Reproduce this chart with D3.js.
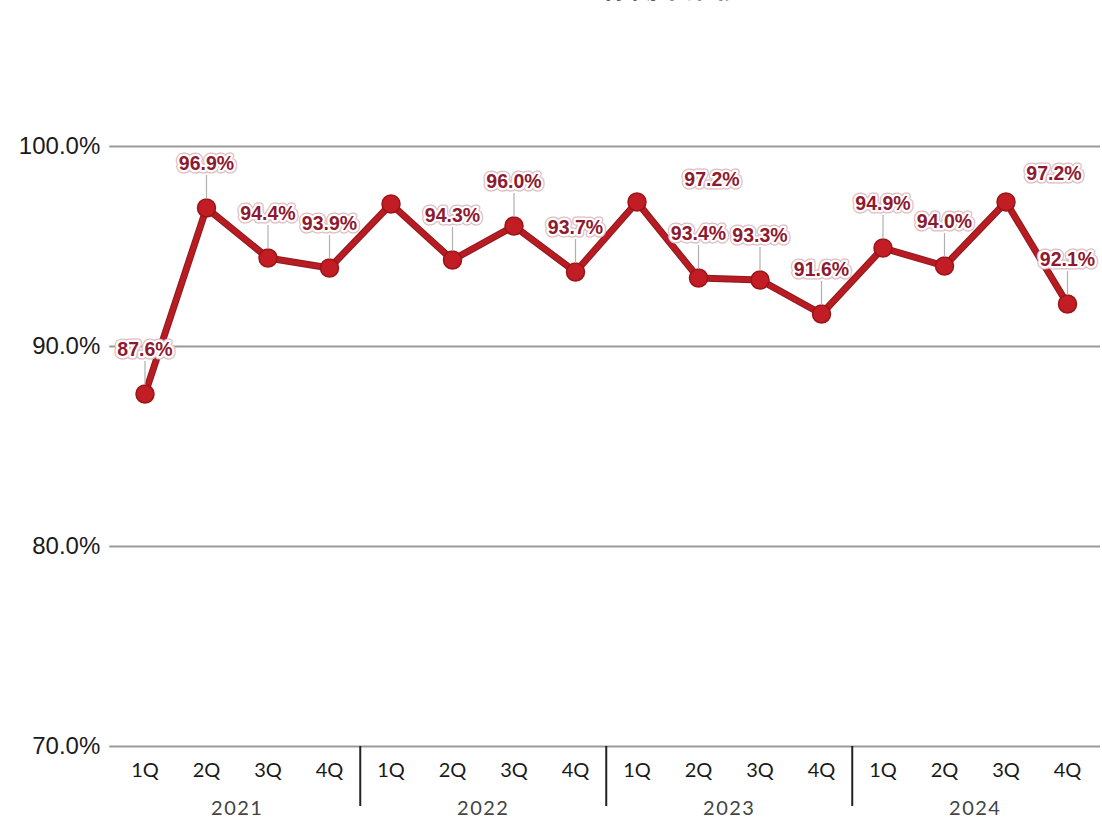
<!DOCTYPE html>
<html>
<head>
<meta charset="utf-8">
<script src="https://cdn.jsdelivr.net/npm/d3@7/dist/d3.min.js"></script>
<style>
  html, body { margin: 0; padding: 0; background: #fff; }
  svg { display: block; }
</style>
</head>
<body>
<svg id="chart" width="1102" height="818"></svg>
<script>
// Quarterly ratio, 2021–2024
const years = ["2021", "2022", "2023", "2024"];
const quarters = ["1Q", "2Q", "3Q", "4Q"];
const values = [87.6, 96.9, 94.4, 93.9, 97.1, 94.3, 96.0, 93.7, 97.2, 93.4, 93.3, 91.6, 94.9, 94.0, 97.2, 92.1];
// which points carry a value label
const labelShown = [true, true, true, true, false, true, true, true, true, true, true, true, true, true, true, true];
const yTicks = [70, 80, 90, 100];
const titleText = "稼働率推移";

// label nudges (index -> offset from default position, leader hidden)
const labelNudge = { 8: { dx: 75, dy: 22 }, 14: { dx: 48, dy: 16 } };

(function draw() {
  const svg = d3.select("#chart");
  const W = 1102;
  const mLeft = 114.25, mRight = 1098.25, mTop = 146, mBottom = 746;

  const points = values.map((v, i) => ({
    i, v,
    year: years[Math.floor(i / 4)],
    q: quarters[i % 4],
    key: i
  }));

  const x = d3.scaleBand().domain(points.map(d => d.key)).range([mLeft, mRight]).padding(0);
  const cx = d => x(d.key) + x.bandwidth() / 2;
  const y = d3.scaleLinear().domain([70, 100]).range([mBottom, mTop]);

  // title (sits at the very top edge)
  svg.append("text")
    .attr("x", 672).attr("y", -2)
    .attr("text-anchor", "middle")
    .attr("font-family", "'Noto Sans CJK JP', sans-serif")
    .attr("font-weight", "bold")
    .attr("font-size", 28)
    .attr("fill", "#333")
    .text(titleText);

  // horizontal gridlines + y labels
  const yAxis = d3.axisLeft(y).tickValues(yTicks).tickFormat(d => d3.format(".1f")(d) + "%")
    .tickSize(-(W - mLeft - 2)).tickPadding(14);
  const gy = svg.append("g").attr("transform", `translate(${mLeft},0)`).call(yAxis);
  gy.select(".domain").remove();
  gy.selectAll(".tick line").attr("stroke", "#9a9a9a").attr("stroke-width", 2).attr("x1", -5);
  gy.selectAll(".tick text")
    .attr("font-family", "'Liberation Sans', Arial, sans-serif")
    .attr("font-size", 24)
    .attr("fill", "#1a1a1a");

  // quarter labels
  const xAxis = d3.axisBottom(x).tickSize(0).tickPadding(17).tickFormat(k => points[k].q);
  const gx = svg.append("g").attr("transform", `translate(0,${mBottom})`).call(xAxis);
  gx.select(".domain").remove();
  gx.selectAll(".tick text")
    .attr("font-family", "Lato, 'Open Sans', sans-serif")
    .attr("font-size", 20)
    .attr("fill", "#1a1a1a");

  // year labels and separators
  const yearScale = d3.scaleBand().domain(years).range([mLeft, mRight]);
  svg.append("g").selectAll("text").data(years).join("text")
    .attr("x", d => yearScale(d) + yearScale.bandwidth() / 2)
    .attr("y", 815)
    .attr("text-anchor", "middle")
    .attr("font-family", "Lato, 'Open Sans', sans-serif")
    .attr("font-size", 20)
    .attr("letter-spacing", 1.5)
    .attr("fill", "#444")
    .text(d => d);
  svg.append("g").selectAll("line").data(years.slice(1)).join("line")
    .attr("x1", d => yearScale(d)).attr("x2", d => yearScale(d))
    .attr("y1", mBottom).attr("y2", 806)
    .attr("stroke", "#222").attr("stroke-width", 2);

  // line
  const line = d3.line().x(cx).y(d => y(d.v));
  svg.append("path").datum(points)
    .attr("d", line).attr("fill", "none")
    .attr("stroke", "#8e1a1f").attr("stroke-width", 7).attr("stroke-linejoin", "round");
  svg.append("path").datum(points)
    .attr("d", line).attr("fill", "none")
    .attr("stroke", "#b81c22").attr("stroke-width", 5).attr("stroke-linejoin", "round");

  // markers
  svg.append("g").selectAll("circle").data(points).join("circle")
    .attr("cx", cx).attr("cy", d => y(d.v)).attr("r", 9)
    .attr("fill", "#c21d24").attr("stroke", "#9b1419").attr("stroke-width", 1.5);

  // value labels with leaders
  const labeled = points.filter(d => labelShown[d.i]);
  const lpos = d => {
    const n = labelNudge[d.i] || { dx: 0, dy: 0 };
    return { x: cx(d) + n.dx, y: y(d.v) - 45 + n.dy, leader: !labelNudge[d.i] };
  };
  svg.append("g").selectAll("line").data(labeled.filter(d => lpos(d).leader)).join("line")
    .attr("x1", cx).attr("x2", cx)
    .attr("y1", d => lpos(d).y + 12).attr("y2", d => y(d.v) - 9)
    .attr("stroke", "#b0b0b0").attr("stroke-width", 1.2);

  const lab = svg.append("g")
    .attr("font-family", "'Liberation Sans', Arial, sans-serif")
    .attr("font-weight", "bold")
    .attr("font-size", 19.5)
    .attr("text-anchor", "middle");
  const fmt = d => d3.format(".1f")(d.v) + "%";
  lab.selectAll("text.halo2").data(labeled).join("text").attr("class", "halo2")
    .attr("x", d => lpos(d).x).attr("y", d => lpos(d).y + 7)
    .attr("fill", "none").attr("stroke", "#dcbcc2").attr("stroke-width", 7).attr("stroke-linejoin", "round")
    .text(fmt);
  lab.selectAll("text.halo").data(labeled).join("text").attr("class", "halo")
    .attr("x", d => lpos(d).x).attr("y", d => lpos(d).y + 7)
    .attr("fill", "none").attr("stroke", "#fff").attr("stroke-width", 4.5).attr("stroke-linejoin", "round")
    .text(fmt);
  lab.selectAll("text.val").data(labeled).join("text").attr("class", "val")
    .attr("x", d => lpos(d).x).attr("y", d => lpos(d).y + 7)
    .attr("fill", "#8e1a30")
    .text(fmt);
})();
</script>
</body>
</html>
